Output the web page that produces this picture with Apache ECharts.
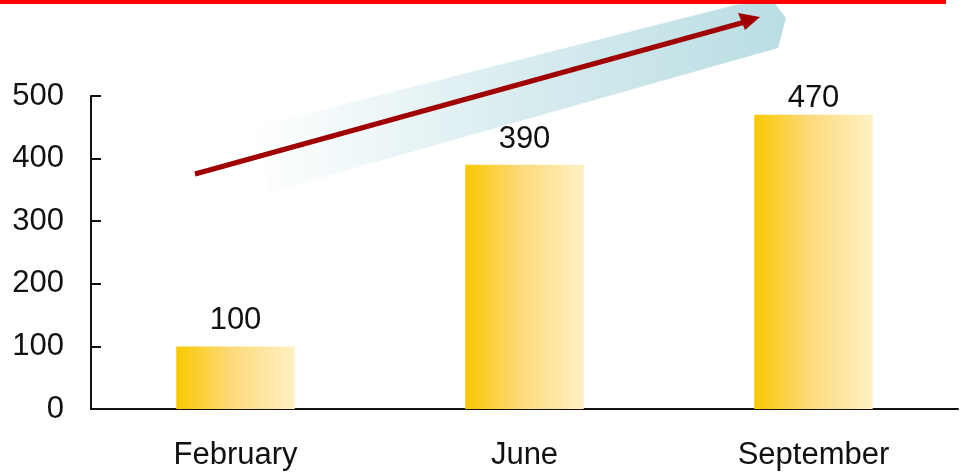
<!DOCTYPE html>
<html><head><meta charset="utf-8">
<script src="https://cdn.jsdelivr.net/npm/echarts@6/dist/echarts.min.js"></script>
<style>html,body{margin:0;padding:0;background:#fff}#c{width:962px;height:473px}</style>
</head><body><div id="c"></div>
<script>
var categories = ['February', 'June', 'September'];
var values = [100, 390, 470];
var yTicks = [0, 100, 200, 300, 400, 500];

var labelDistances = [10, 10, 1];
var seriesData = values.map(function (v, i) {
  return { value: v, label: { distance: labelDistances[i] } };
});

var chart = echarts.init(document.getElementById('c'));
chart.setOption({
  animation: false,
  grid: { left: 91, right: 4, top: 96, bottom: 64, containLabel: false },
  xAxis: {
    type: 'category', data: categories,
    axisLine: { lineStyle: { color: '#111', width: 2 } },
    axisTick: { inside: true, length: 8, lineStyle: { color: '#111', width: 2 } },
    axisLabel: { color: '#111', fontSize: 31, fontFamily: 'Liberation Sans, Arial', margin: 31 }
  },
  yAxis: {
    type: 'value', min: yTicks[0], max: yTicks[yTicks.length - 1], interval: 100,
    axisLine: { show: true, lineStyle: { color: '#111', width: 2 } },
    axisTick: { show: true, inside: true, length: 10, lineStyle: { color: '#111', width: 2 } },
    splitLine: { show: false },
    axisLabel: { color: '#111', fontSize: 31, fontFamily: 'Liberation Sans, Arial', margin: 27 }
  },
  series: [{
    type: 'bar', data: seriesData, barWidth: '41%',
    itemStyle: {
      color: new echarts.graphic.LinearGradient(0, 0, 1, 0, [
        { offset: 0, color: '#f9c800' },
        { offset: 0.45, color: '#fdd978' },
        { offset: 1, color: '#fef1c4' }
      ])
    },
    label: { show: true, position: 'top', distance: 10, color: '#111', fontSize: 31, fontFamily: 'Liberation Sans, Arial' }
  }],
  graphic: [
    { type: 'rect', shape: { x: 0, y: 0, width: 946, height: 4 }, style: { fill: '#ff0000' }, z: 10 },
    { type: 'polygon', shape: { points: [[250, 128], [735, 5], [772, 0], [786, 18], [778, 48], [270, 192]] },
      style: { fill: new echarts.graphic.LinearGradient(0, 0, 1, 0, [
        { offset: 0, color: 'rgba(185,221,227,0)' },
        { offset: 0.5, color: 'rgba(185,221,227,0.55)' },
        { offset: 1, color: 'rgba(185,221,227,1)' }
      ]) }, z: 1 },
    { type: 'line', shape: { x1: 195, y1: 174, x2: 745, y2: 22 }, style: { stroke: '#a00000', lineWidth: 5 }, z: 5 },
    { type: 'polygon', shape: { points: [[760, 17], [738, 13], [745, 30]] }, style: { fill: '#a00000' }, z: 5 }
  ]
});
</script></body></html>
